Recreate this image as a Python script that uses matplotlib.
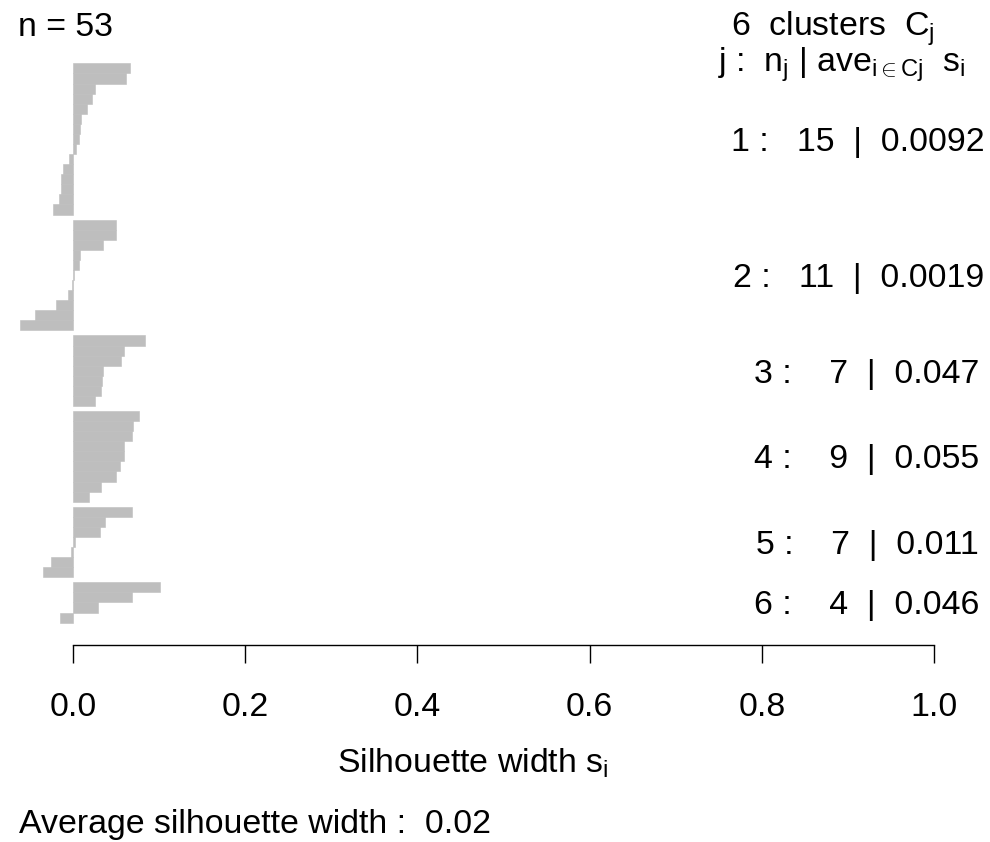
import numpy as np
import matplotlib
matplotlib.use("Agg")
import matplotlib.pyplot as plt
import matplotlib.transforms as mtransforms

plt.rcParams["font.family"] = ["Liberation Sans", "DejaVu Sans"]
plt.rcParams["mathtext.fontset"] = "custom"
plt.rcParams["mathtext.rm"] = "Liberation Sans"
plt.rcParams["mathtext.it"] = "Liberation Sans"
plt.rcParams["mathtext.bf"] = "Liberation Sans:bold"

# 1. Silhouette widths per cluster (sorted, top to bottom)
cluster_ids = [1, 2, 3, 4, 5, 6]
c1 = [0.0667, 0.0613, 0.0253, 0.0222, 0.0164, 0.0099, 0.0087, 0.0068, 0.0033,
      -0.0041, -0.0114, -0.0137, -0.0137, -0.0157, -0.0230]
c2 = [0.0503, 0.0500, 0.0346, 0.0087, 0.0068, 0.0010, -0.0005, -0.0060,
      -0.0195, -0.0440, -0.0610]
c3 = [0.0841, 0.0597, 0.0559, 0.0350, 0.0338, 0.0330, 0.0253]
c4 = [0.0764, 0.0705, 0.0687, 0.0597, 0.0597, 0.0544, 0.0505, 0.0331, 0.0184]
c5 = [0.0690, 0.0369, 0.0311, 0.0029, -0.0021, -0.0249, -0.0346]
c6 = [0.1007, 0.0690, 0.0292, -0.0153]
clusters = [c1, c2, c3, c4, c5, c6]
cluster_avg = ["0.0092", "0.0019", "0.047", "0.055", "0.011", "0.046"]
overall_avg = "0.02"
x_ticks = [0.0, 0.2, 0.4, 0.6, 0.8, 1.0]

W, H = 990, 842
FS = 24.4

# 2. Bar positions: gap of half a bar between clusters
values, ypos, centers = [], [], []
g = 0
for c, vals in enumerate(clusters):
    ys = [g + k + 0.5 * c for k in range(len(vals))]
    values += vals
    ypos += ys
    centers.append(np.mean(ys))
    g += len(vals)

n_total = len(values)
lo, hi = -0.5, ypos[-1] + 0.5
ext = 0.04 * (hi - lo)

fig = plt.figure(figsize=(W / 100, H / 100), dpi=100)
ax_left, ax_right = 20.2, 934.3
ax_top, ax_bottom = 41, 645
ax = fig.add_axes([ax_left / W, 1 - ax_bottom / H,
                   (ax_right - ax_left) / W, (ax_bottom - ax_top) / H])

ax.barh(ypos, values, height=1.0, color="#bebebe", edgecolor="#bebebe",
        linewidth=0.4)

ax.set_xlim(min(values), 1.0)
ax.set_ylim(hi + ext, lo - ext)

for s in ["top", "left", "right"]:
    ax.spines[s].set_visible(False)
ax.spines["bottom"].set_bounds(0, 1)
ax.spines["bottom"].set_linewidth(1.0)
ax.set_yticks([])
ax.set_xticks(x_ticks)
ax.set_xticklabels([f"{t:.1f}" for t in x_ticks])
ax.tick_params(axis="x", direction="out", length=13, width=1.0,
               labelsize=FS, pad=21)

# 3. Cluster labels (anchored 80% of their width left of x = 1)
renderer = fig.canvas.get_renderer()
for cid, vals, avg, yc in zip(cluster_ids, clusters, cluster_avg, centers):
    label = f"{cid} :   {len(vals)}  |  {avg}"
    if len(vals) < 10:
        label = f"{cid} :    {len(vals)}  |  {avg}"
    t = ax.text(1.0, yc, label, fontsize=FS, ha="left", va="center_baseline",
                clip_on=False)
    w = t.get_window_extent(renderer).width
    t.set_transform(mtransforms.offset_copy(ax.transData, fig=fig,
                                            x=-0.8 * w, y=0, units="dots"))

# 4. Margin texts
def px(x, y):
    return x / W, 1 - y / H

fig.text(*px(18, 36.5), f"n = {n_total}", fontsize=FS, ha="left", va="baseline")
fig.text(*px(934, 35.5), f"{len(clusters)}  clusters  $C_j$", fontsize=FS,
         ha="right", va="baseline")
fig.text(*px(841, 71.5), r"j :  $n_j$ | $ave_{i\in Cj}$  $s_i$", fontsize=FS,
         ha="center", va="baseline")
fig.text(*px(473, 773), r"Silhouette width $s_i$", fontsize=FS,
         ha="center", va="baseline")
fig.text(*px(19, 832.5), f"Average silhouette width :  {overall_avg}",
         fontsize=FS, ha="left", va="baseline")

fig.savefig("out.png", dpi=100)
